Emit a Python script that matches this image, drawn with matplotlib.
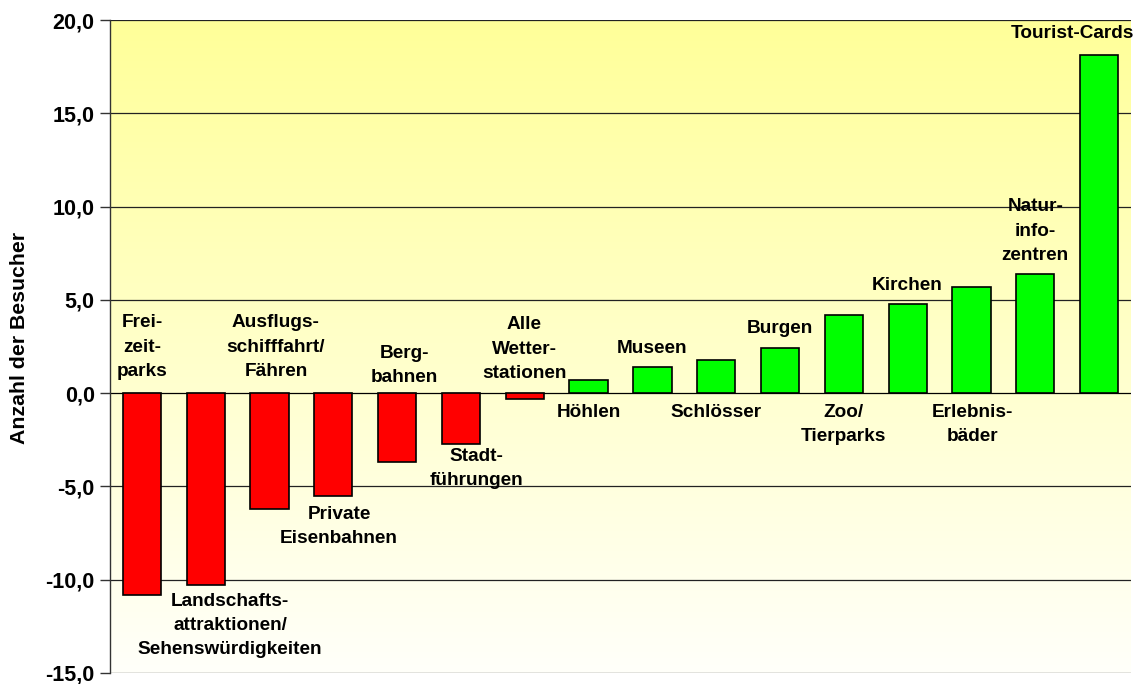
import numpy as np
import matplotlib
matplotlib.use("Agg")
import matplotlib.pyplot as plt
from matplotlib.colors import LinearSegmentedColormap

# Daten: Veränderung der Besucherzahlen je Kategorie
kategorien = ["Frei-\nzeit-\nparks", "Landschafts-\nattraktionen/\nSehenswürdigkeiten",
              "Ausflugs-\nschifffahrt/\nFähren", "Private\nEisenbahnen", "Berg-\nbahnen",
              "Stadt-\nführungen", "Alle\nWetter-\nstationen", "Höhlen", "Museen",
              "Schlösser", "Burgen", "Zoo/\nTierparks", "Kirchen", "Erlebnis-\nbäder",
              "Natur-\ninfo-\nzentren", "Tourist-Cards"]
werte = [-10.8, -10.3, -6.2, -5.5, -3.7, -2.7, -0.3, 0.7, 1.4, 1.8, 2.4, 4.2, 4.8, 5.7, 6.4, 18.1]
yticks = [-15, -10, -5, 0, 5, 10, 15, 20]

# Beschriftungspositionen (Datenkoordinaten, von Hand gesetzt)
label_x = [0.0, 1.38, 2.10, 3.09, 4.12, 5.24, 5.99, 7.0, 7.99, 8.99, 9.99, 11.0, 11.99, 13.01, 14.0, 14.58]
label_y = [2.47, -12.44, 2.47, -7.16, 1.50, -4.02, 2.36, -1.02, 2.41, -1.02, 3.49, -1.66, 5.79, -1.66, 8.69, 19.25]

plt.rcParams['font.family'] = ['Liberation Sans', 'DejaVu Sans']
plt.rcParams['font.weight'] = 'bold'

fig = plt.figure(figsize=(11.37, 6.84), dpi=100)
ax = fig.add_axes([110/1137, 11/684, 1021/1137, 653/684])

# Hintergrund: Verlauf von Gelb (oben) nach Weiß (unten)
cmap = LinearSegmentedColormap.from_list("bg", ["#fffffa", "#ffff99"])
grad = np.linspace(0, 1, 256).reshape(-1, 1)
ax.imshow(grad, cmap=cmap, origin="lower", aspect="auto",
          extent=[0, 1, 0, 1], transform=ax.transAxes, zorder=0)

x = np.arange(len(werte))
farben = ["#ff0000" if v < 0 else "#00ff00" for v in werte]
ax.bar(x, werte, width=0.6, color=farben, edgecolor="black", linewidth=1.2, zorder=3)

ax.set_xlim(-0.5, len(werte) - 0.5)
ax.set_ylim(-15, 20)
ax.set_yticks(yticks)
ax.set_yticklabels([f"{t:.1f}".replace(".", ",") for t in yticks], fontsize=15.5, fontweight="bold")
ax.set_xticks([])
ax.tick_params(axis="y", length=7, width=1, color="#333333", pad=4)

for t in yticks:
    ax.axhline(t, color="#222222" if t != 0 else "black", linewidth=0.9, zorder=1)

for s in ["top", "right", "bottom"]:
    ax.spines[s].set_visible(False)
ax.spines["left"].set_color("#333333")
ax.spines["left"].set_linewidth(1)

for lx, ly, txt in zip(label_x, label_y, kategorien):
    ax.text(lx, ly, txt, ha="center", va="center", fontsize=13.7, fontweight="bold",
            linespacing=1.55, zorder=5, clip_on=False)

fig.text(20/1137, 1 - 338/684, "Anzahl der Besucher", rotation=90, ha="center", va="center",
         fontsize=15.3, fontweight="bold")

fig.savefig("out.png", dpi=100)
